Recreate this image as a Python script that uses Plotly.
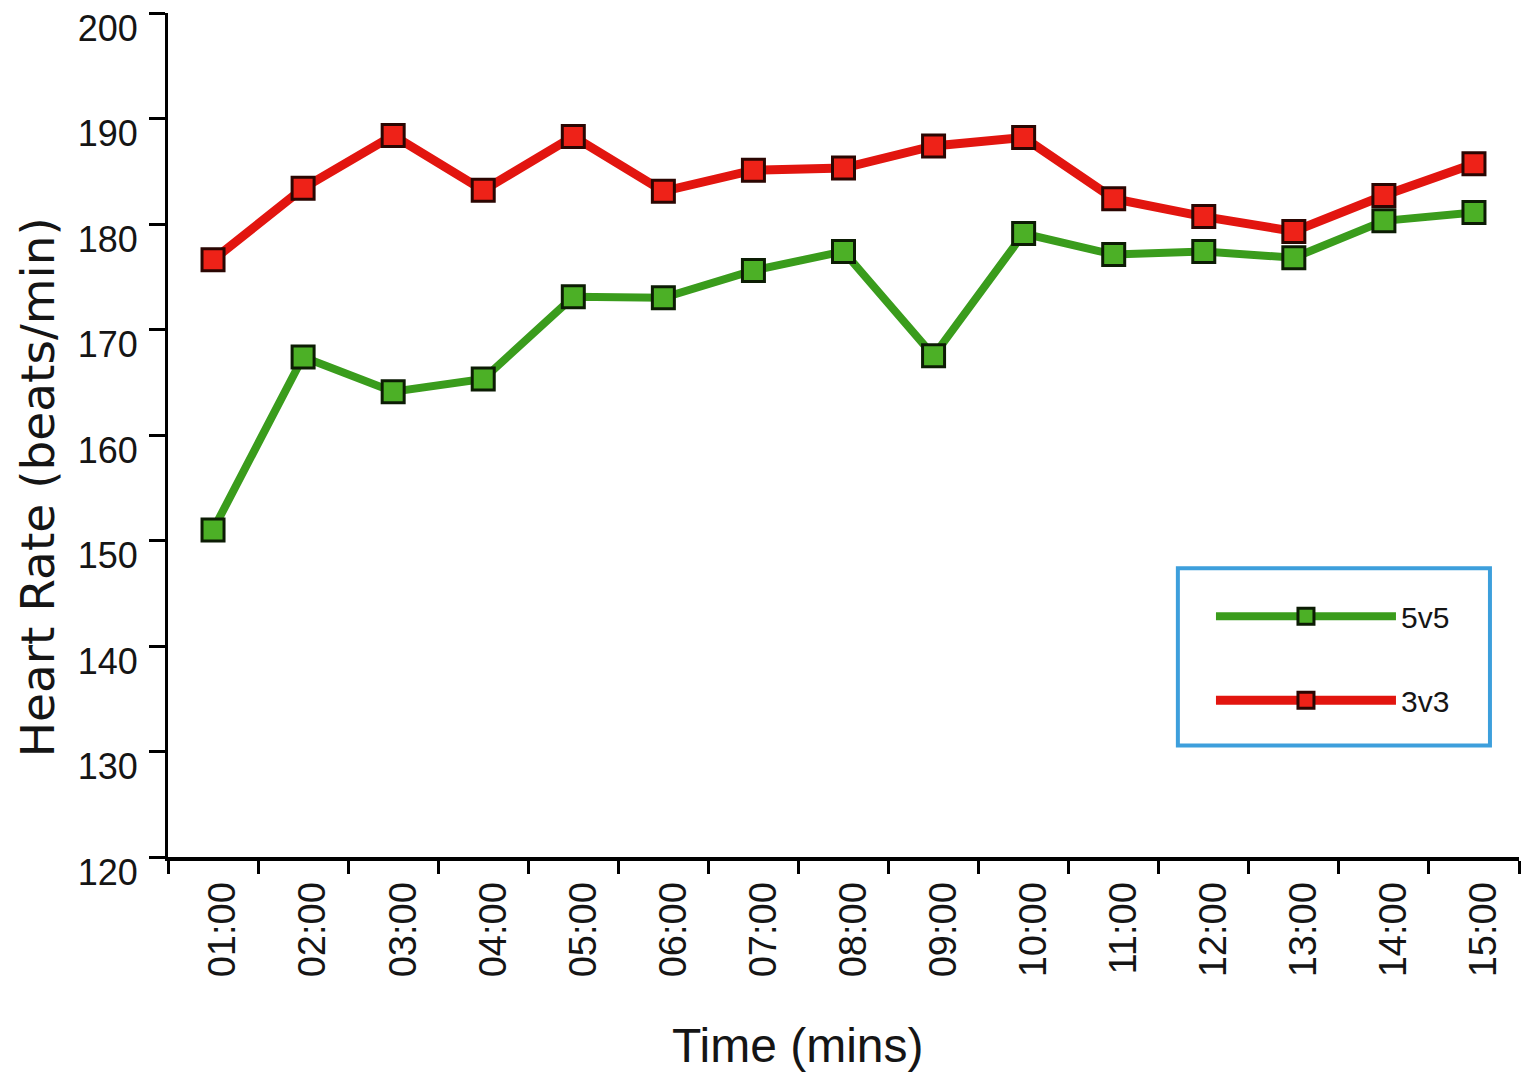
import plotly.graph_objects as go

# Minute marks of the session
times = ["01:00", "02:00", "03:00", "04:00", "05:00", "06:00", "07:00", "08:00",
         "09:00", "10:00", "11:00", "12:00", "13:00", "14:00", "15:00"]

# Mean heart rate (beats/min) per minute for each small-sided game format
hr_5v5 = [151.0, 167.4, 164.1, 165.3, 173.1, 173.0, 175.6, 177.4,
          167.5, 179.1, 177.1, 177.4, 176.8, 180.3, 181.1]
hr_3v3 = [176.6, 183.4, 188.4, 183.2, 188.3, 183.1, 185.1, 185.3,
          187.4, 188.2, 182.4, 180.7, 179.3, 182.7, 185.7]

y_ticks = [120, 130, 140, 150, 160, 170, 180, 190, 200]

SANS = "Liberation Sans, Arial, sans-serif"
INK = "#151515"

fig = go.Figure()

fig.add_trace(go.Scatter(
    x=times, y=hr_5v5, name="5v5", mode="lines+markers", legendgroup="g5",
    line=dict(color="#3a9c1c", width=8),
    marker=dict(symbol="square", size=22, color="#4cb026",
                line=dict(color="#0c1c04", width=3)),
))
fig.add_trace(go.Scatter(
    x=times, y=hr_3v3, name="3v3", mode="lines+markers", legendgroup="g3",
    line=dict(color="#e2150f", width=9),
    marker=dict(symbol="square", size=22, color="#ee2218",
                line=dict(color="#2a0602", width=3)),
))

fig.update_layout(
    width=1522, height=1075,
    margin=dict(l=168, r=3, t=13, b=218),
    paper_bgcolor="white", plot_bgcolor="white",
    font=dict(family=SANS, color=INK),
    showlegend=True,
    legend=dict(
        x=0.772, y=0.316, xanchor="left", yanchor="top",
        bgcolor="rgba(0,0,0,0)", borderwidth=0,
        font=dict(family=SANS, size=30, color=INK),
        itemwidth=180, tracegroupgap=42,
    ),
    xaxis=dict(
        type="category", range=[-0.5, 14.5],
        showline=True, linecolor="black", linewidth=4,
        ticks="outside", tickson="boundaries", ticklen=13, tickwidth=3,
        tickcolor="black", tickangle=-90,
        tickfont=dict(family=SANS, size=38, color=INK),
        ticklabelstandoff=6, ticklabelshift=10, ticklabeloverflow="allow",
        showgrid=False, zeroline=False,
    ),
    yaxis=dict(
        range=[120, 200], tickvals=y_ticks,
        showline=True, linecolor="black", linewidth=3,
        ticks="outside", ticklen=16, tickwidth=3, tickcolor="black",
        tickfont=dict(family=SANS, size=36, color=INK),
        ticklabelshift=15, ticklabelstandoff=4, ticklabeloverflow="allow",
        showgrid=False, zeroline=False,
    ),
    shapes=[dict(
        type="rect", xref="paper", yref="paper",
        x0=0.7475, x1=0.9785, y0=0.132, y1=0.342,
        line=dict(color="#3d9fdc", width=4), fillcolor="rgba(0,0,0,0)",
    )],
    annotations=[
        dict(text="Time (mins)", xref="paper", yref="paper",
             x=0.466, y=-0.223, xanchor="center", yanchor="middle",
             showarrow=False, font=dict(family=SANS, size=48, color=INK)),
        dict(text="Heart Rate (beats/min)", xref="paper", yref="paper",
             x=-0.097, y=0.438, xanchor="center", yanchor="middle",
             textangle=-90, showarrow=False,
             font=dict(family="DejaVu Sans", size=47, color=INK)),
    ],
)

fig.write_html("out.html")
